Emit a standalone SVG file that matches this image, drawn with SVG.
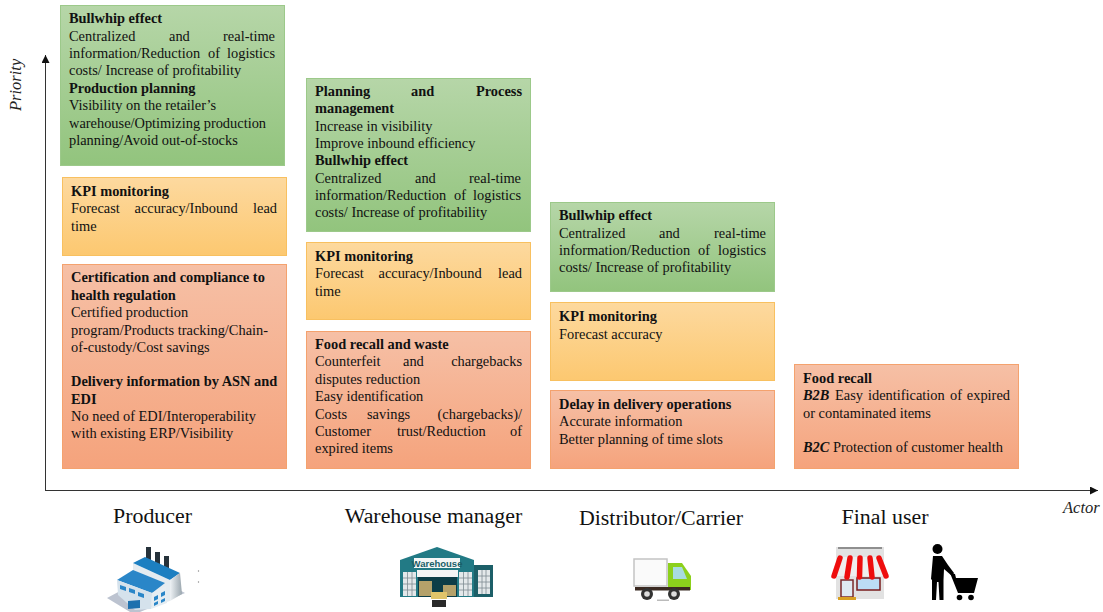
<svg xmlns="http://www.w3.org/2000/svg" width="1103" height="612" viewBox="0 0 1103 612">
<style>
text{font-family:"Liberation Serif","Times New Roman",serif;fill:#111}
.t{font-size:14.400px}
.b{font-weight:700}
.e{text-anchor:end}
.lab{font-size:21.900px}
.ax{font-size:16.500px;font-style:italic;fill:#222}
.gr{fill:url(#g);stroke:#9cc98a}
.ye{fill:url(#y);stroke:#f8c060}
.re{fill:url(#r);stroke:#f4a26e}
.axis{stroke:#333;stroke-width:1;fill:none;marker-end:url(#arrow)}
</style>
<defs>
<linearGradient id="g" x1="0" y1="0" x2="0" y2="1"><stop offset="0" stop-color="#b6d6a8"/><stop offset="1" stop-color="#92c47d"/></linearGradient>
<linearGradient id="y" x1="0" y1="0" x2="0" y2="1"><stop offset="0" stop-color="#fdd99f"/><stop offset="1" stop-color="#fcc870"/></linearGradient>
<linearGradient id="r" x1="0" y1="0" x2="0" y2="1"><stop offset="0" stop-color="#f6c0a6"/><stop offset="1" stop-color="#f5a37c"/></linearGradient>
<linearGradient id="metal" x1="0" y1="0" x2="1" y2="0"><stop offset="0" stop-color="#eef2f5"/><stop offset="1" stop-color="#9aa6ae"/></linearGradient>
<marker id="arrow" markerWidth="10" markerHeight="8" refX="8" refY="4" orient="auto" markerUnits="userSpaceOnUse"><path d="M0 0L8 4L0 8Z" fill="#111"/></marker>
<filter id="soft" x="-5%" y="-5%" width="110%" height="110%"><feGaussianBlur stdDeviation="0.5"/></filter>
</defs>

<g id="connectors">
<path class="axis" d="M45.500 490.500V55"/>
<path class="axis" d="M45 490.500H1098"/>
</g>
<text class="ax" transform="translate(21 111) rotate(-90)">Priority</text>
<text class="ax" x="1063" y="513">Actor</text>

<g id="p-green">
<rect class="gr" x="60.500" y="5.500" width="224" height="160"/>
<text class="t" x="69" y="23"><tspan class="b">Bullwhip effect</tspan></text>
<text class="t" y="41"><tspan x="69">Centralized</tspan><tspan x="169">and</tspan><tspan class="e" x="275">real-time</tspan></text>
<text class="t" y="58"><tspan x="69">information/Reduction</tspan><tspan x="208">of</tspan><tspan class="e" x="275">logistics</tspan></text>
<text class="t" x="69" y="75">costs/ Increase of profitability</text>
<text class="t b" x="69" y="93">Production planning</text>
<text class="t" x="69" y="110">Visibility on the retailer’s</text>
<text class="t" x="69" y="127.500">warehouse/Optimizing production</text>
<text class="t" x="69" y="145">planning/Avoid out-of-stocks</text>
</g>
<g id="p-yellow">
<rect class="ye" x="62.500" y="177.500" width="224" height="78"/>
<text class="t b" x="71" y="196">KPI monitoring</text>
<text class="t" y="213"><tspan x="71">Forecast</tspan><tspan x="134.500">accuracy/Inbound</tspan><tspan class="e" x="277">lead</tspan></text>
<text class="t" x="71" y="231">time</text>
</g>
<g id="p-red">
<rect class="re" x="62.500" y="264.500" width="224" height="204"/>
<text class="t b" x="71" y="282">Certification and compliance to</text>
<text class="t b" x="71" y="300">health regulation</text>
<text class="t" x="71" y="317">Certified production</text>
<text class="t" x="71" y="334.500">program/Products tracking/Chain-</text>
<text class="t" x="71" y="352">of-custody/Cost savings</text>
<text class="t b" x="71" y="386">Delivery information by ASN and</text>
<text class="t b" x="71" y="403.500">EDI</text>
<text class="t" x="71" y="421">No need of EDI/Interoperability</text>
<text class="t" x="71" y="438">with existing ERP/Visibility</text>
</g>

<g id="w-green">
<rect class="gr" x="306.500" y="78.500" width="224" height="153"/>
<text class="t b" y="96"><tspan x="315">Planning</tspan><tspan x="411">and</tspan><tspan class="e" x="522">Process</tspan></text>
<text class="t b" x="315" y="113">management</text>
<text class="t" x="315" y="131">Increase in visibility</text>
<text class="t" x="315" y="148">Improve inbound efficiency</text>
<text class="t b" x="315" y="165">Bullwhip effect</text>
<text class="t" y="183"><tspan x="315">Centralized</tspan><tspan x="415">and</tspan><tspan class="e" x="521">real-time</tspan></text>
<text class="t" y="200"><tspan x="315">information/Reduction</tspan><tspan x="454">of</tspan><tspan class="e" x="521">logistics</tspan></text>
<text class="t" x="315" y="217">costs/ Increase of profitability</text>
</g>
<g id="w-yellow">
<rect class="ye" x="306.500" y="242.500" width="224" height="77"/>
<text class="t b" x="315" y="261">KPI monitoring</text>
<text class="t" y="278"><tspan x="315">Forecast</tspan><tspan x="378.500">accuracy/Inbound</tspan><tspan class="e" x="522">lead</tspan></text>
<text class="t" x="315" y="296">time</text>
</g>
<g id="w-red">
<rect class="re" x="306.500" y="331.500" width="224" height="137"/>
<text class="t b" x="315" y="349">Food recall and waste</text>
<text class="t" y="366"><tspan x="315">Counterfeit</tspan><tspan x="403">and</tspan><tspan class="e" x="522">chargebacks</tspan></text>
<text class="t" x="315" y="384">disputes reduction</text>
<text class="t" x="315" y="401">Easy identification</text>
<text class="t" y="418.500"><tspan x="315">Costs</tspan><tspan x="367">savings</tspan><tspan class="e" x="522">(chargebacks)/</tspan></text>
<text class="t" y="436"><tspan x="315">Customer</tspan><tspan x="397">trust/Reduction</tspan><tspan class="e" x="522">of</tspan></text>
<text class="t" x="315" y="453">expired items</text>
</g>

<g id="d-green">
<rect class="gr" x="550.500" y="202.500" width="224" height="89"/>
<text class="t b" x="559" y="220">Bullwhip effect</text>
<text class="t" y="238"><tspan x="559">Centralized</tspan><tspan x="659">and</tspan><tspan class="e" x="766">real-time</tspan></text>
<text class="t" y="255"><tspan x="559">information/Reduction</tspan><tspan x="698">of</tspan><tspan class="e" x="766">logistics</tspan></text>
<text class="t" x="559" y="272">costs/ Increase of profitability</text>
</g>
<g id="d-yellow">
<rect class="ye" x="550.500" y="302.500" width="224" height="78"/>
<text class="t b" x="559" y="321">KPI monitoring</text>
<text class="t" x="559" y="339">Forecast accuracy</text>
</g>
<g id="d-red">
<rect class="re" x="550.500" y="390.500" width="224" height="78"/>
<text class="t b" x="559" y="409">Delay in delivery operations</text>
<text class="t" x="559" y="426">Accurate information</text>
<text class="t" x="559" y="444">Better planning of time slots</text>
</g>

<g id="u-red">
<rect class="re" x="794.500" y="364.500" width="224" height="104"/>
<text class="t b" x="803" y="383">Food recall</text>
<text class="t" y="400"><tspan class="b" font-style="italic" x="803">B2B</tspan><tspan x="835">Easy</tspan><tspan x="868">identification</tspan><tspan x="950">of</tspan><tspan class="e" x="1010">expired</tspan></text>
<text class="t" x="803" y="418">or contaminated items</text>
<text class="t" y="452"><tspan class="b" font-style="italic" x="803">B2C</tspan><tspan x="833">Protection of customer health</tspan></text>
</g>

<g id="labels">
<text class="lab" x="152.500" y="523" text-anchor="middle">Producer</text>
<text class="lab" x="433.500" y="523" text-anchor="middle">Warehouse manager</text>
<text class="lab" x="661" y="525" text-anchor="middle">Distributor/Carrier</text>
<text class="lab" x="885" y="524" text-anchor="middle">Final user</text>
</g>

<g id="icon-factory" filter="url(#soft)">
<path d="M107 598L122 590L170 585L185 593L140 612H130Z" fill="#bcc3d0"/>
<path d="M146 547h5v19h-5zM155 552h5v19h-5zM164 556h5v20h-5z" fill="#27303a"/>
<path d="M133 563L170 580L170 601L152 606L133 580Z" fill="#e4ebf0"/>
<path d="M133 563L145 557L180 573L170 580Z" fill="#1f7fc1"/>
<path d="M170 580L180 573L182 594L170 601Z" fill="url(#metal)"/>
<path d="M117 580L133 570L165 583L152 593Z" fill="#2a86c8"/>
<path d="M117 580L152 593L151 609L135 610L118 595Z" fill="#d5e2ec"/>
<path d="M152 593L166 586L167 603L151 609Z" fill="#e6edf2"/>
<path d="M120 585l6 2v4l-6-2zM129 588l6 2v4l-6-2zM138 592l6 2v4l-6-2zM154 597l4-2v4l-4 2zM161 593l4-2v4l-4 2zM154 603l4-2v3l-4 2zM161 600l4-2v3l-4 2z" fill="#2a86c8"/>
<path d="M128 601l12-1v8l-12 1z" fill="#1f6fae"/>
</g>
<circle cx="198.500" cy="571" r="0.700" fill="#888"/><circle cx="198.500" cy="582" r="0.700" fill="#888"/>

<g id="icon-warehouse" filter="url(#soft)">
<path d="M400 560L437 547L474 560V597H400Z" fill="#217a85"/>
<rect x="474" y="565" width="19" height="32" fill="#1a5e68"/>
<rect x="478" y="570" width="12" height="24" fill="#e3e8ea"/>
<rect x="403" y="572" width="13" height="24" fill="#e3e8ea"/>
<rect x="459" y="572" width="13" height="24" fill="#e3e8ea"/>
<rect x="418" y="575" width="39" height="22" fill="#0f3c47"/>
<rect x="417" y="570" width="41" height="7" fill="#f4f4f4"/>
<rect x="419" y="581" width="13" height="15" fill="#b4a16b"/>
<rect x="443" y="585" width="13" height="11" fill="#b4a16b"/>
<rect x="431" y="592" width="16" height="7" fill="#e0c46a"/>
<rect x="432" y="600" width="14" height="7" fill="#2a2a2a"/>
<rect x="414" y="558" width="46" height="10" fill="#f4f6f6"/>
<path d="M403 578H416M403 584H416M403 590H416M459 578H472M459 584H472M459 590H472M478 576H490M478 582H490M478 588H490M407.500 572V596M412 572V596M463.500 572V596M468 572V596M482 570V594M486 570V594" stroke="#7d8c92" stroke-width="0.800"/>
</g>
<text id="icon-warehouse-label" x="437" y="566.500" text-anchor="middle" font-size="9.500px" font-weight="700" style="font-family:'Liberation Sans',sans-serif;fill:#1a5e68">Warehouse</text>

<g id="icon-truck" filter="url(#soft)">
<rect x="634" y="559" width="33" height="27" fill="#fafafa" stroke="#c4c4c4" stroke-width="1.500"/>
<path d="M668 563H682L691 576V590H668Z" fill="#8cd01e"/>
<path d="M673 567H682L687 579H673Z" fill="#a8dbe0"/>
<rect x="635" y="587" width="55" height="3.500" fill="#3a2a24"/>
<circle cx="647" cy="594" r="6" fill="#333"/><circle cx="647" cy="594" r="2.800" fill="#ddd"/>
<circle cx="674" cy="594" r="6" fill="#333"/><circle cx="674" cy="594" r="2.800" fill="#ddd"/>
<rect x="657" y="599.500" width="12" height="1.500" fill="#bbb"/>
</g>

<g id="icon-store" filter="url(#soft)">
<rect x="836" y="547" width="48" height="52" fill="#e2e2e2"/>
<rect x="838" y="547" width="44" height="2" fill="#8f8f8f"/>
<rect x="841" y="580" width="12" height="17" fill="#dfeaf2" stroke="#7a2a2a" stroke-width="1.500"/>
<rect x="857" y="578" width="23" height="12" fill="#bcdcf5" stroke="#7a1c1c" stroke-width="1.500"/>
<rect x="838" y="597" width="18" height="3" fill="#d9a021"/>
<path d="M838 557H882L888 576H832Z" fill="#efefef"/>
<path d="M840 558L834 576M850 558L847 577M860 558L859.500 577M870 558L872 577M879 558L886 576" stroke="#ee1111" stroke-width="5.500" stroke-linecap="round"/>
</g>

<g id="icon-shopper">
<circle cx="937.500" cy="549" r="5"/>
<path d="M933 556H942L948 565L954 573L952 576L944 569L943.500 580L943.500 600H939.500L938.500 582H937L936 600H932L932 580L931 579Z" fill="#000"/>
<path d="M950 573L955 574L956 578L978 578L974 593H958Z" fill="#000"/>
<circle cx="959.500" cy="597.500" r="2.800"/><circle cx="971" cy="597.500" r="2.800"/>
</g>
</svg>
